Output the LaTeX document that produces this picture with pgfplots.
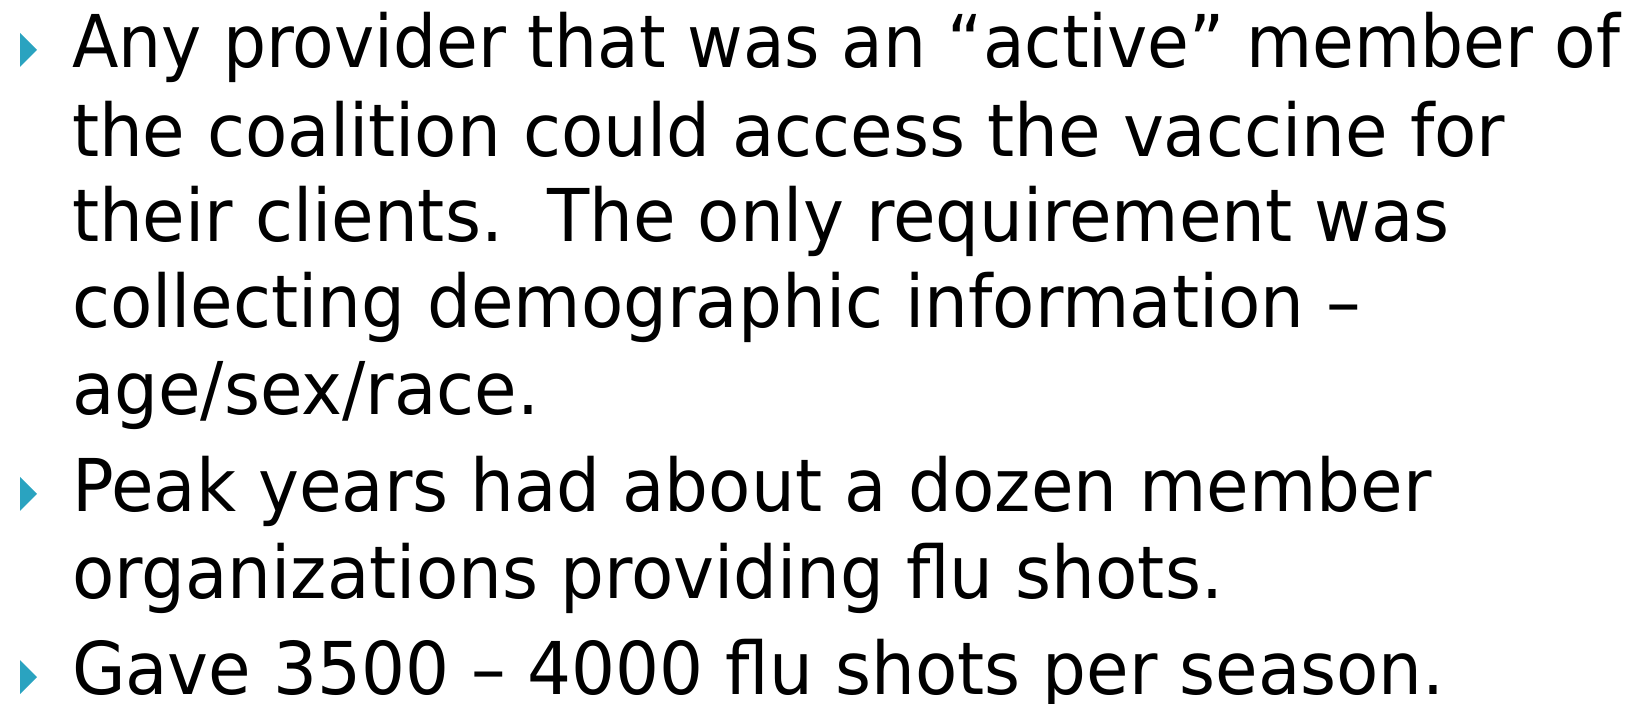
\documentclass[border=0pt]{standalone}
\usepackage{fontspec}
\setmainfont{DejaVu Sans}[FakeStretch=0.95]
\newfontfamily\narrowfont{DejaVu Sans}[FakeStretch=0.933]
\usepackage{pgfplots}
\pgfplotsset{compat=1.18}
\definecolor{bullet}{HTML}{2AA3C0}
\tikzset{txt/.style={inner sep=0pt, outer sep=0pt, anchor=base west,
     font=\fontsize{36.4}{40}\selectfont}}
\pgfdeclareplotmark{rtri}{%
  \pgfpathmoveto{\pgfqpoint{-4.25pt}{-8.5pt}}%
  \pgfpathlineto{\pgfqpoint{4.25pt}{0pt}}%
  \pgfpathlineto{\pgfqpoint{-4.25pt}{8.5pt}}%
  \pgfpathclose\pgfusepathqfill}
\begin{document}
\begin{tikzpicture}
\begin{axis}[
  scale only axis, width=815.5pt, height=352pt,
  xmin=0, xmax=1631, ymin=0, ymax=704, y dir=reverse,
  hide axis, clip=false,
]
\addplot[only marks, mark=rtri, color=bullet] coordinates {(28.5,50) (28.5,494) (28.5,677)};
\node[txt] at (axis cs:72,68) {\narrowfont Any provider that was an “active” member of};
\node[txt] at (axis cs:72,157) {the coalition could access the vaccine for};
\node[txt] at (axis cs:72,242) {their clients.\ \ The only requirement was};
\node[txt] at (axis cs:72,328) {collecting demographic information –};
\node[txt] at (axis cs:72,415) {age/sex/race.};
\node[txt] at (axis cs:72,512) {Peak years had about a dozen member};
\node[txt] at (axis cs:72,598) {organizations providing flu shots.};
\node[txt] at (axis cs:72,694) {Gave 3500 – 4000 flu shots per season.};
\end{axis}
\pgfresetboundingbox
\path[use as bounding box] (current axis.south west) rectangle (current axis.north east);
\end{tikzpicture}
\end{document}
